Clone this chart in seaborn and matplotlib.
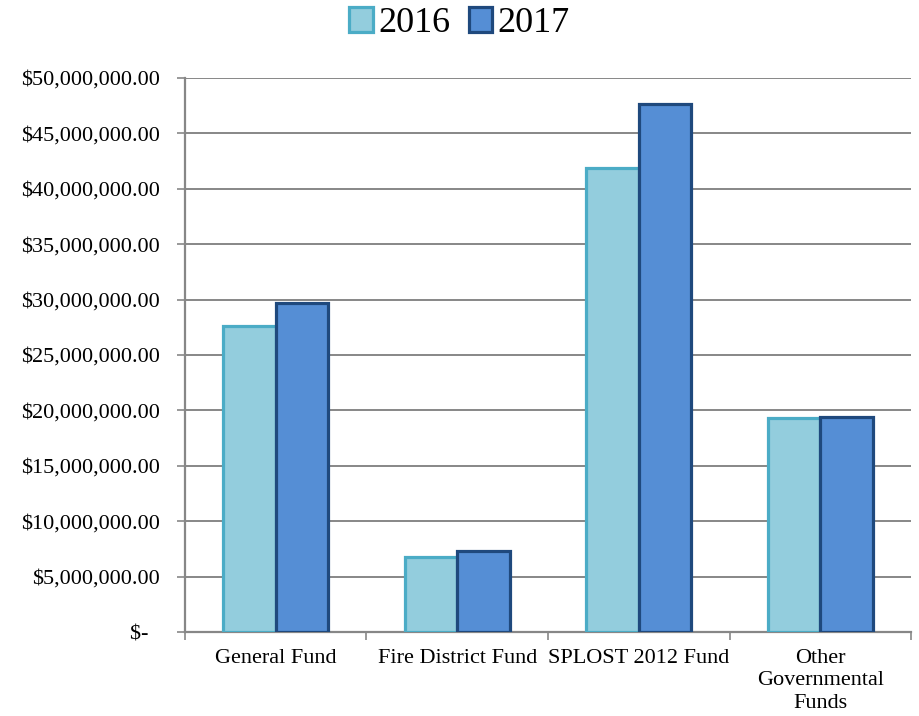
import matplotlib
matplotlib.use("Agg")
import matplotlib.pyplot as plt
import matplotlib.ticker as mticker
from matplotlib.patches import Patch
import pandas as pd
import seaborn as sns

categories = ["General Fund", "Fire District Fund", "SPLOST 2012 Fund",
              "Other\nGovernmental\nFunds"]
years = ["2016", "2017"]
values_2016 = [27.6e6, 6.8e6, 41.9e6, 19.3e6]
values_2017 = [29.7e6, 7.3e6, 47.6e6, 19.4e6]

fills = {"2016": "#93CDDD", "2017": "#558ED5"}
edges = {"2016": "#4BACC6", "2017": "#1F497D"}


def money(v, pos):
    if v == 0:
        return "$-  "
    return "${:,.2f}".format(v)


def main():
    df = pd.DataFrame({
        "fund": categories * 2,
        "year": ["2016"] * 4 + ["2017"] * 4,
        "amount": values_2016 + values_2017,
    })

    sns.set_style("white")
    plt.rcParams["font.family"] = ["Liberation Serif", "DejaVu Serif"]
    plt.rcParams["text.color"] = "black"

    fig = plt.figure(figsize=(9.19, 7.16), dpi=100)
    ax = fig.add_axes([0.2013, 0.1173, 0.7900, 0.7740])

    sns.barplot(data=df, x="fund", y="amount", hue="year", order=categories,
                hue_order=years, palette=fills, width=0.58, saturation=1,
                ax=ax, legend=False, errorbar=None, zorder=3)

    for i, cont in enumerate(ax.containers):
        for bar in cont:
            bar.set_edgecolor(edges[years[i]])
            bar.set_linewidth(2.3)

    ax.set_ylim(0, 50e6)
    ax.set_xlim(-0.5, 3.5)
    ax.yaxis.set_major_locator(mticker.MultipleLocator(5e6))
    ax.yaxis.set_major_formatter(mticker.FuncFormatter(money))
    ax.yaxis.grid(True, color="#878787", linewidth=1.4, zorder=0)
    ax.set_axisbelow(True)

    ax.set_xticks([-0.5, 0.5, 1.5, 2.5, 3.5])
    ax.set_xticklabels([])
    ax.set_xticks(range(4), minor=True)
    ax.set_xticklabels(categories, minor=True, fontsize=16, linespacing=1.25)
    ax.tick_params(axis="x", which="minor", length=0, pad=12,
                   labelcolor="black")
    ax.tick_params(axis="x", which="major", length=6, width=1.2,
                   color="#878787", direction="out", bottom=True)
    ax.tick_params(axis="y", length=6, width=1.2, color="#878787",
                   direction="out", left=True, labelsize=16, pad=12,
                   labelcolor="black")

    ax.set_xlabel("")
    ax.set_ylabel("")
    for side in ["top", "right"]:
        ax.spines[side].set_visible(False)
    for side in ["left", "bottom"]:
        ax.spines[side].set_color("#878787")
        ax.spines[side].set_linewidth(1.6)

    handles = [Patch(facecolor=fills[y], edgecolor=edges[y], linewidth=2.3,
                     label=y) for y in years]
    fig.legend(handles=handles, loc="upper center", bbox_to_anchor=(0.5, 1.0),
               ncol=2, frameon=False, fontsize=26, handlelength=0.65,
               handleheight=0.65, handletextpad=0.15, columnspacing=0.5,
               borderpad=0.1, borderaxespad=0.1)

    fig.savefig("out.png", dpi=100)


if __name__ == "__main__":
    main()
